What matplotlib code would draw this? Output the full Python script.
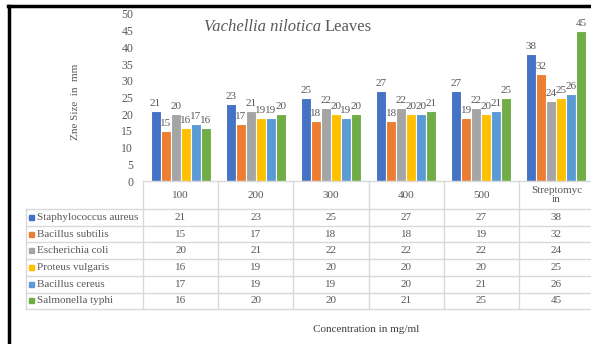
import matplotlib
matplotlib.use("Agg")
import matplotlib.pyplot as plt
from matplotlib.lines import Line2D
from matplotlib.patches import Rectangle
import numpy as np

# chart data
categories = ["100", "200", "300", "400", "500", "Streptomyc\nin"]
species = ["Staphylococcus aureus", "Bacillus subtilis", "Escherichia coli",
           "Proteus vulgaris", "Bacillus cereus", "Salmonella typhi"]
staph = [21, 23, 25, 27, 27, 38]
subtilis = [15, 17, 18, 18, 19, 32]
ecoli = [20, 21, 22, 22, 22, 24]
proteus = [16, 19, 20, 20, 20, 25]
cereus = [17, 19, 19, 20, 21, 26]
salmonella = [16, 20, 20, 21, 25, 45]
series = [staph, subtilis, ecoli, proteus, cereus, salmonella]
colors = ["#4472C4", "#ED7D31", "#A5A5A5", "#FFC000", "#5B9BD5", "#70AD47"]

W, H = 591, 344
TXT = "#595959"
GRID = "#D9D9D9"
plt.rcParams['font.family'] = ['Liberation Serif', 'DejaVu Serif']


def fx(x):
    return x / W


def fy(y):
    return 1 - y / H


fig = plt.figure(figsize=(W / 100, H / 100), dpi=100)

# plot area (last column runs past the right edge like the original)
left, right, top, bottom = 143, 594, 14, 181
ax = fig.add_axes([fx(left), fy(bottom), (right - left) / W, (bottom - top) / H])
ax.set_xlim(0, len(categories))
ax.set_ylim(0, 50)
ax.set_yticks(np.arange(0, 51, 5))
ax.set_xticks([])
ax.tick_params(axis='y', length=0, pad=7, labelsize=8.5, labelcolor=TXT)
for s in ax.spines.values():
    s.set_visible(False)

n = len(series)
bw = 0.8 / n
x = np.arange(len(categories)) + 0.5
for i, vals in enumerate(series):
    pos = x - 0.4 + bw * (i + 0.5)
    ax.bar(pos, vals, width=bw, color=colors[i], edgecolor="white", linewidth=0.8)
    for px_, v in zip(pos, vals):
        ax.annotate(str(v), (px_, v), xytext=(0, 2), textcoords="offset points",
                    ha="center", va="bottom", fontsize=8, color=TXT)

# title
fig.text(fx(321), fy(27), "Vachellia nilotica", ha="right", va="center",
         fontsize=12, color=TXT, fontstyle="italic")
fig.text(fx(325), fy(27), "Leaves", ha="left", va="center", fontsize=12, color=TXT)

# axis labels
fig.text(fx(75), fy(102), "Zne Size  in  mm", rotation=90, ha="center", va="center",
         fontsize=8, color=TXT)
fig.text(fx(366), fy(330), "Concentration in mg/ml", ha="center", va="center",
         fontsize=8, color="#404040")

# data table
col_w = (right - left) / len(categories)
row_top = 209
row_h = 16.7
n_rows = len(species)
tbl_bottom = row_top + row_h * n_rows


def hline(x0, x1, y):
    fig.add_artist(Line2D([fx(x0), fx(x1)], [fy(y), fy(y)], color=GRID, lw=1))


def vline(x, y0, y1):
    fig.add_artist(Line2D([fx(x), fx(x)], [fy(y0), fy(y1)], color=GRID, lw=1))


hline(left, W, bottom)
for r in range(n_rows + 1):
    hline(26, W, row_top + r * row_h)
vline(26, row_top, tbl_bottom)
for c in range(len(categories) + 1):
    vline(left + c * col_w, bottom, tbl_bottom)

for c, cat in enumerate(categories):
    cx = left + (c + 0.5) * col_w
    fig.text(fx(cx), fy((bottom + row_top) / 2), cat, ha="center", va="center",
             fontsize=8, color=TXT, linespacing=0.9)
    for r in range(n_rows):
        cy = row_top + (r + 0.5) * row_h
        fig.text(fx(cx), fy(cy), str(series[r][c]), ha="center", va="center",
                 fontsize=8, color=TXT)

for r, name in enumerate(species):
    cy = row_top + (r + 0.5) * row_h
    fig.add_artist(Rectangle((fx(29), fy(cy + 2.5)), 5 / W, 5 / H, color=colors[r],
                             transform=fig.transFigure))
    fig.text(fx(37), fy(cy), name, ha="left", va="center", fontsize=8, color=TXT)

# outer black frame (top and left visible)
fig.add_artist(Line2D([fx(8), 1], [fy(6), fy(6)], color="black", lw=2.5))
fig.add_artist(Line2D([fx(9), fx(9)], [fy(6), 0], color="black", lw=2.5))

fig.savefig("out.png", dpi=100)
